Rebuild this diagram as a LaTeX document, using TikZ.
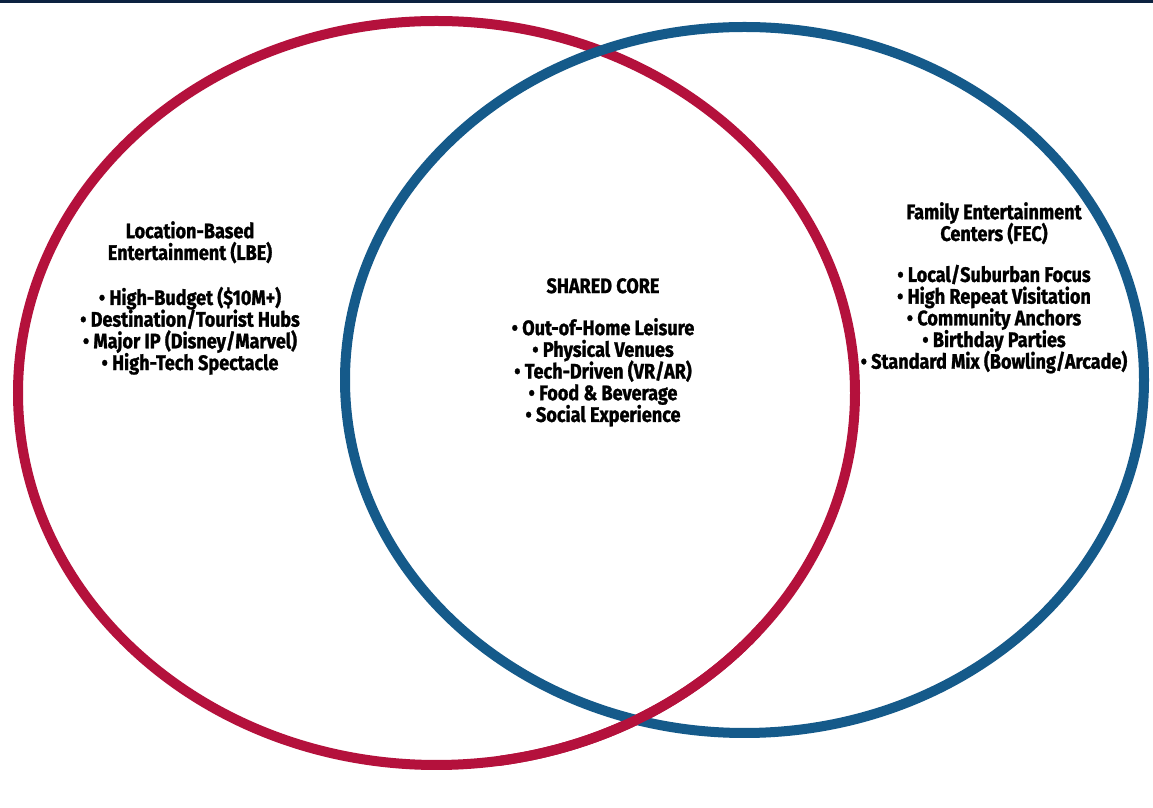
\documentclass[tikz,border=0pt]{standalone}
\usepackage{fontspec}
\setmainfont[FakeStretch=0.86, BoldFeatures={FakeBold=1.2}]{Fira Sans}
\usepackage{xcolor}
\usepackage{tikz}

\definecolor{lbered}{RGB}{180,17,60}
\definecolor{fecblue}{RGB}{21,90,138}
\definecolor{topnavy}{RGB}{12,34,64}

\newcommand{\blockfont}{\bfseries\fontsize{21bp}{21.7bp}\selectfont\setlength{\lineskiplimit}{-10pt}}

\tikzstyle{ring} = [line width=10bp]
\tikzstyle{block} = [inner sep=0pt, align=center, anchor=north, font=\blockfont]

\begin{document}
\begin{tikzpicture}[x=1bp, y=1bp]
\useasboundingbox (0,0) rectangle (1153,808);
\fill[white] (0,0) rectangle (1153,808);
\fill[topnavy] (0,805) rectangle (1153,808);

% Circles
\draw[ring, lbered] (436.5,415) ellipse [x radius=418.5, y radius=372];
\draw[ring, fecblue] (744.5,428) ellipse [x radius=399.5, y radius=353];
% red passes over blue at the lower crossing
\begin{scope}
\clip (500,0) rectangle (760,200);
\draw[ring, lbered] (436.5,415) ellipse [x radius=418.5, y radius=372];
\end{scope}

% Nodes
\node (lbe) [block] at (190,587) {Location-Based\\Entertainment (LBE)\\[23.3bp]
  • High-Budget (\$10M+)\\• Destination/Tourist Hubs\\• Major IP (Disney/Marvel)\\• High-Tech Spectacle};
\node (core) [block] at (603,530) {SHARED CORE\\[20.3bp]
  • Out-of-Home Leisure\\• Physical Venues\\• Tech-Driven (VR/AR)\\• Food \& Beverage\\• Social Experience};
\node (fec) [block] at (994,606) {Family Entertainment\\Centers (FEC)\\[19.3bp]
  • Local/Suburban Focus\\• High Repeat Visitation\\• Community Anchors\\• Birthday Parties\\• Standard Mix (Bowling/Arcade)};

\end{tikzpicture}
\end{document}
